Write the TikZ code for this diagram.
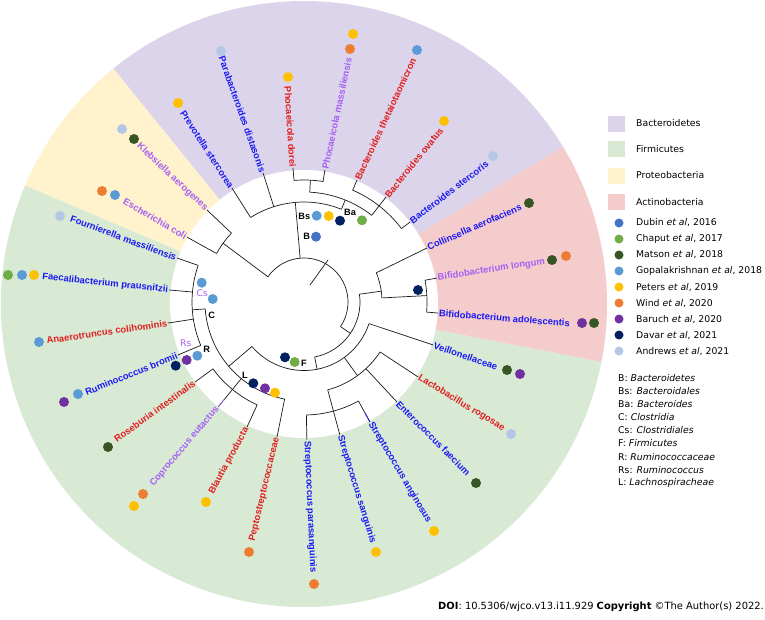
\documentclass[tikz,border=0pt]{standalone}
\usepackage{fontspec}
\setmainfont{DejaVu Sans}
\newfontfamily\labfont{Liberation Sans}
\usetikzlibrary{calc}
\definecolor{bandP}{RGB}{220,212,234}
\definecolor{bandG}{RGB}{216,233,212}
\definecolor{bandY}{RGB}{255,242,204}
\definecolor{bandR}{RGB}{244,204,204}
\definecolor{lblue}{RGB}{25,25,245}
\definecolor{lred}{RGB}{225,30,30}
\definecolor{lpurp}{RGB}{165,95,245}
\definecolor{cDubin}{RGB}{68,114,196}
\definecolor{cChaput}{RGB}{112,173,71}
\definecolor{cMatson}{RGB}{55,86,35}
\definecolor{cGopal}{RGB}{91,155,213}
\definecolor{cPeters}{RGB}{255,192,0}
\definecolor{cWind}{RGB}{237,125,49}
\definecolor{cBaruch}{RGB}{112,48,160}
\definecolor{cDavar}{RGB}{0,32,96}
\definecolor{cAndrews}{RGB}{180,199,231}
\newcommand{\TArc}[3]{\draw[tree] (#1:#3) arc[start angle=#1, end angle=#2, radius=#3];}
\newcommand{\TRad}[3]{\draw[tree] (#1:#2) -- (#1:#3);}
% name, foot angle, foot radius, label position, rotation, colour, text
\newcommand{\LfR}[7]{\node[lab,text=#6,anchor=west,rotate=#5] (#1) at (#4) {#7};
  \draw[tree] (#2:#3) -- (#1.west);}
\newcommand{\LfL}[7]{\node[lab,text=#6,anchor=east,rotate=#5-180] (#1) at (#4) {#7};
  \draw[tree] (#2:#3) -- (#1.east);}
\begin{document}
\begin{tikzpicture}[x=1pt,y=1pt,
  tree/.style={draw=black!90,line width=0.7pt},
  lab/.style={font=\labfont\bfseries\fontsize{9.4}{10}\selectfont,inner sep=0.8pt},
  dot/.style={circle,inner sep=0pt,minimum size=10pt},
  ldot/.style={circle,inner sep=0pt,minimum size=9pt},
  nlab/.style={font=\labfont\bfseries\fontsize{9.2}{10}\selectfont,inner sep=0pt},
  clab/.style={font=\fontsize{9.2}{10}\selectfont,text=lpurp,inner sep=0pt},
  leg/.style={font=\fontsize{9.3}{11}\selectfont,anchor=west,inner sep=0pt},
  sq/.style={minimum width=17pt,minimum height=16pt,inner sep=0pt}]
\useasboundingbox (0,0) rectangle (765,-619);
% phylum bands
\fill[bandP] (304,-304) -- ++(31.3:303) arc[start angle=31.3,end angle=129,radius=303] -- cycle;
\fill[bandY] (304,-304) -- ++(129:303) arc[start angle=129,end angle=157,radius=303] -- cycle;
\fill[bandG] (304,-304) -- ++(157:303) arc[start angle=157,end angle=349,radius=303] -- cycle;
\fill[bandR] (304,-304) -- ++(-11:303) arc[start angle=-11,end angle=31.3,radius=303] -- cycle;
\fill[white] (304,-304) circle[radius=134];
% tree
\begin{scope}[shift={(304,-302)}]
\TArc{-34}{145}{44}
\draw[tree] (6,17) -- (24,42);
\TRad{-34}{44}{56}
\TArc{-79}{8}{56}
% Actinobacteria
\TRad{8}{56}{78}
\TArc{3}{22}{78}
\TRad{3}{78}{123}
\TArc{-4.7}{10.2}{123}
% Firmicutes
\TRad{-79}{56}{68.5}
\TArc{220.5}{341.6}{68.5}
\TRad{220.5}{68.5}{99}
\TArc{184}{258.7}{99}
\TRad{184}{99}{112}
\TArc{160.9}{202.8}{112}
\TRad{230.7}{99}{113}
\TArc{216.3}{245.5}{113}
\TRad{306}{68.5}{91}
\TArc{285.1}{326.7}{91}
\TRad{285.1}{91}{113}
\TArc{271.2}{298.8}{113}
% Proteobacteria
\draw[tree] (145:44) -- (144:100);
\TArc{136.5}{151}{100}
% Bacteroidetes
\TRad{95}{44}{100}
\TArc{68}{122.3}{100}
\TRad{68}{100}{110}
\TArc{52}{87}{110}
\TRad{87}{110}{122}
\TArc{81}{94.7}{122}
\TRad{52}{110}{122}
\TArc{37}{66.5}{122}
% leaves
\LfR{l1}{-4.7}{123}{-4.7:134.5}{-4.4}{lblue}{Bifidobacterium adolescentis}
\LfR{l2}{10.2}{123}{10.2:135}{8.6}{lpurp}{Bifidobacterium longum}
\LfR{l3}{22}{78}{23.7:134.3}{23.8}{lblue}{Collinsella aerofaciens}
\LfR{l4}{37}{122}{37:133}{37.5}{lblue}{Bacteroides stercoris}
\LfR{l5}{52}{122}{52:133.2}{51}{lred}{Bacteroides ovatus}
\LfR{l6}{66.5}{122}{66.5:133}{65}{lred}{Bacteroides thetaiotaomicron}
\LfR{l7}{81}{122}{81:133.7}{78}{lpurp}{Phocaeicola massiliensis}
\LfL{l8}{94.7}{122}{94.7:134.5}{93.7}{lred}{Phocaeicola dorei}
\LfL{l9}{107.6}{100}{107.6:135.4}{109.6}{lblue}{Parabacteroides distasonis}
\LfL{l10}{122.3}{100}{122.3:134.8}{122.8}{lblue}{Prevotella stercorea}
\LfL{l11}{136.5}{100}{136.5:133.7}{136.7}{lpurp}{Klebsiella aerogenes}
\LfL{l12}{151}{100}{151:133.8}{150}{lpurp}{Escherichia coli}
\LfL{l13}{160.9}{112}{160.9:134.4}{159.5}{lblue}{Fournierella massiliensis}
\LfL{l14}{174.9}{112}{174.9:135.5}{174.1}{lblue}{Faecalibacterium prausnitzii}
\LfL{l15}{188.8}{112}{188.8:137.6}{188.2}{lred}{Anaerotruncus colihominis}
\LfL{l16}{202.8}{112}{202.8:136.7}{202.1}{lblue}{Ruminococcus bromii}
\LfL{l17}{216.3}{113}{216.3:135.2}{216}{lred}{Roseburia intestinalis}
\LfL{l18}{230.7}{113}{230.7:135.7}{229.8}{lpurp}{Coprococcus eutactus}
\LfL{l19}{245.5}{113}{245.5:137.4}{241.7}{lred}{Blautia producta}
\LfL{l20}{258.7}{99}{258.7:137.7}{256.6}{lred}{Peptostreptococcaceae}
\LfR{l21}{271.2}{113}{271.2:138}{272.6}{lblue}{Streptococcus parasanguinis}
\LfR{l22}{285.1}{113}{285.1:137.8}{287}{lblue}{Streptococcus sanguinis}
\LfR{l23}{298.8}{113}{298.8:137}{300.6}{lblue}{Streptococcus anginosus}
\LfR{l24}{312.9}{91}{312.9:136.6}{315}{lblue}{Enterococcus faecium}
\LfR{l25}{326.7}{91}{326.7:136.5}{328.7}{lred}{Lactobacillus rogosae}
\LfR{l26}{341.6}{68.5}{341.6:136}{341}{lblue}{Veillonellaceae}
% coloured ends of two leaf lines
\draw[line width=0.7pt,lpurp] (230.7:126) -- (l18.east);
\draw[line width=0.7pt,lblue] (298.8:127) -- (l23.west);
\end{scope}
% study dots
\foreach \x/\y/\c [count=\i] in {
 221/51/cAndrews, 288/77/cPeters, 178/103/cPeters, 122/129/cAndrews, 134/139/cMatson,
 102/191/cWind, 115/195/cGopal, 60/216/cAndrews, 8/275/cChaput, 22/275/cGopal, 34/275/cPeters,
 353/34/cPeters, 350/49/cWind, 417/50/cGopal, 444/121/cPeters, 493/156/cAndrews,
 529/203/cMatson, 552/260/cMatson, 566/256/cWind, 582/323/cBaruch, 594/323/cMatson,
 507/370/cMatson, 520/374/cBaruch, 511/434/cAndrews, 476/483/cMatson, 434/531/cPeters,
 376/552/cPeters, 314/584/cWind, 249/552/cWind, 206/502/cPeters, 143/494/cWind, 134/506/cPeters,
 108/447/cMatson, 64/402/cBaruch, 78/394/cGopal, 39/342/cGopal,
 316.7/215.7/cGopal, 328.7/216/cPeters, 340/220.7/cDavar, 362/220.3/cChaput, 316/236.7/cDubin,
 201.7/282.7/cGopal, 212.7/299/cGopal, 197.3/355.7/cGopal, 186.7/360/cBaruch, 175.7/365.7/cDavar,
 253.3/383.3/cDavar, 265/388.3/cBaruch, 275/392.7/cPeters, 285/357.3/cDavar, 294.7/362/cChaput,
 418/290/cDavar}
 \node[dot,fill=\c] (dot\i) at (\x,-\y) {};
% clade labels
\node[nlab] (nB) at (306.7,-236.7) {B};
\node[nlab] (nBs) at (304.3,-216) {Bs};
\node[nlab] (nBa) at (350,-212.7) {Ba};
\node[nlab] (nC) at (211.7,-315) {C};
\node[clab] (nCs) at (202.3,-293.3) {Cs};
\node[nlab] (nR) at (206.7,-349.3) {R};
\node[clab] (nRs) at (185.7,-343.3) {Rs};
\node[nlab] (nL) at (245,-375) {L};
\node[nlab] (nF) at (304,-363.3) {F};
% legend: phyla
\node[sq,fill=bandP] (sq1) at (616.5,-123.5) {};
\node[leg] (t1) at (636,-123.5) {Bacteroidetes};
\node[sq,fill=bandG] (sq2) at (616.5,-149) {};
\node[leg] (t2) at (636,-149) {Firmicutes};
\node[sq,fill=bandY] (sq3) at (616.5,-175.5) {};
\node[leg] (t3) at (636,-175.5) {Proteobacteria};
\node[sq,fill=bandR] (sq4) at (616.5,-202) {};
\node[leg] (t4) at (636,-202) {Actinobacteria};
% legend: studies
\foreach \y/\c/\t [count=\i] in {
 223/cDubin/{Dubin \textit{et al}, 2016},
 239/cChaput/{Chaput \textit{et al}, 2017},
 255/cMatson/{Matson \textit{et al}, 2018},
 271/cGopal/{Gopalakrishnan \textit{et al}, 2018},
 287/cPeters/{Peters \textit{et al}, 2019},
 303/cWind/{Wind \textit{et al}, 2020},
 319/cBaruch/{Baruch \textit{et al}, 2020},
 335/cDavar/{Davar \textit{et al}, 2021},
 351/cAndrews/{Andrews \textit{et al}, 2021}}
 {\node[ldot,fill=\c] (ld\i) at (619,-\y) {};
  \node[leg] (lt\i) at (636,-\y) {\t};}
% legend: abbreviations
\foreach \y/\t [count=\i] in {
 378/{B: \textit{Bacteroidetes}}, 391/{Bs: \textit{Bacteroidales}}, 404/{Ba: \textit{Bacteroides}},
 417/{C: \textit{Clostridia}}, 430/{Cs: \textit{Clostridiales}}, 443/{F: \textit{Firmicutes}},
 457/{R: \textit{Ruminococcaceae}}, 470/{Rs: \textit{Ruminococcus}}, 483/{L: \textit{Lachnospiracheae}}}
 \node[leg] (ab\i) at (618,-\y) {\t};
\node[anchor=east,font=\fontsize{9.9}{11}\selectfont,inner sep=0pt] (doi) at (764,-607)
 {\textbf{DOI}: 10.5306/wjco.v13.i11.929 \textbf{Copyright} ©The Author(s) 2022.};
\end{tikzpicture}
\end{document}
